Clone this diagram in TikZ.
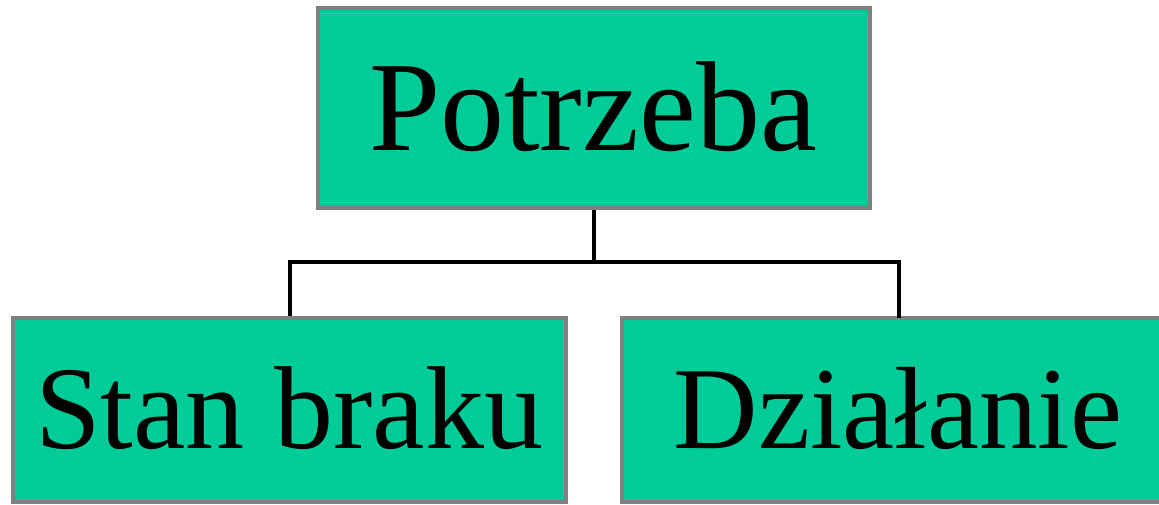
\documentclass[tikz,border=0pt]{standalone}
\usepackage{fontspec}
\setmainfont{Liberation Serif}
\definecolor{boxfill}{HTML}{00CC99}
\definecolor{boxline}{HTML}{808080}
\begin{document}
\begin{tikzpicture}[x=1pt,y=-1pt,
  box/.style={draw=boxline, line width=4pt, fill=boxfill, inner sep=0pt},
  conn/.style={draw=black, line width=4pt},
  lbl/.style={anchor=base, inner sep=0pt, text=black}]
\useasboundingbox (0,0) rectangle (1159,504);
\node[box, minimum width=552pt, minimum height=200pt] (top) at (594,108) {};
\node[box, minimum width=553pt, minimum height=184pt] (left) at (289.5,410) {};
\node[box, minimum width=570pt, minimum height=184pt] (right) at (907,410) {};
\node[lbl, font=\fontsize{128}{128}\selectfont] (toptext) at (593,150) {Potrzeba};
\node[lbl, font=\fontsize{118}{118}\selectfont] (lefttext) at (289,448) {Stan braku};
\node[lbl, font=\fontsize{117}{117}\selectfont] (righttext) at (898,448) {Działanie};
\coordinate (j) at (594,262);
\coordinate (rtop) at (899,318);
\draw[conn] (top.south) -- (j);
\draw[conn] (j) -| (left.north);
\draw[conn] (j) -| (rtop);
\end{tikzpicture}
\end{document}
